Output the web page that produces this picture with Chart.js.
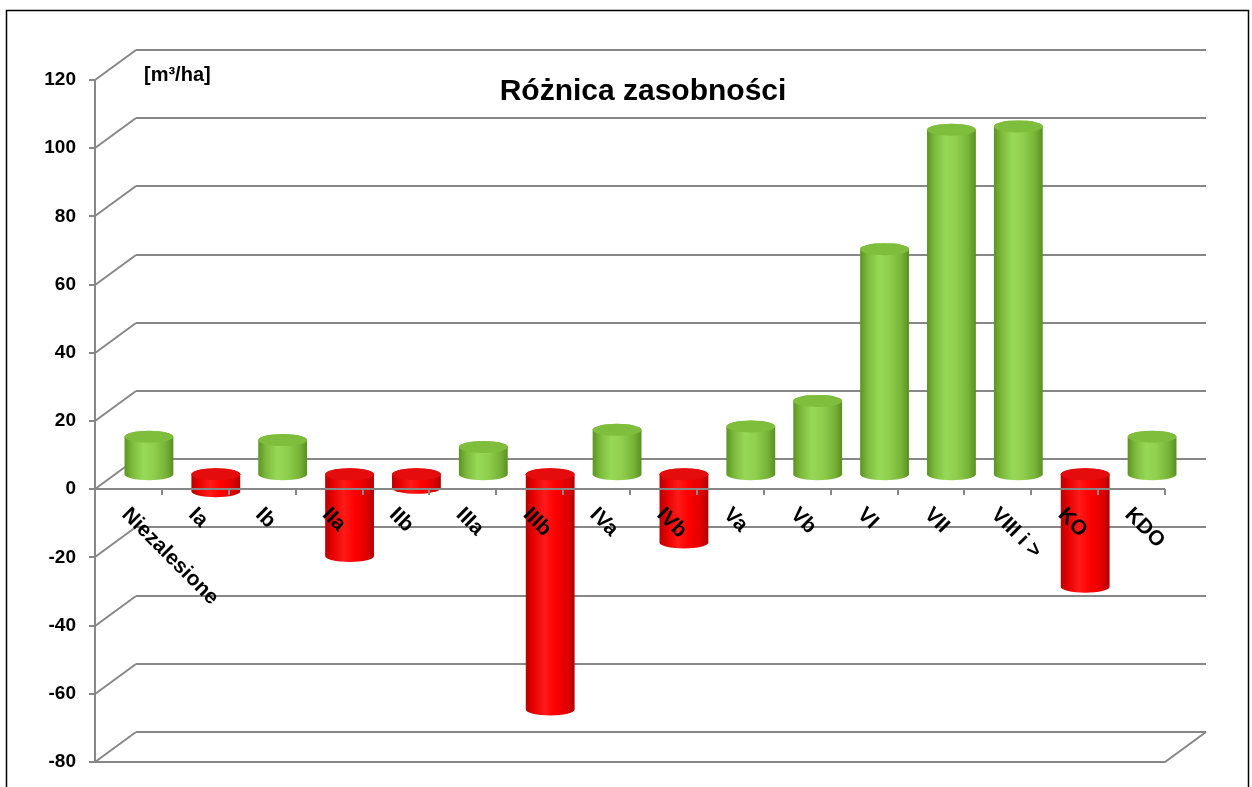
<!DOCTYPE html>
<html>
<head>
<meta charset="utf-8">
<script src="https://cdn.jsdelivr.net/npm/chart.js@4"></script>
<style>
  html, body { margin: 0; padding: 0; background: #fff; overflow: hidden; }
  #wrap { width: 1252px; height: 787px; position: relative; }
</style>
</head>
<body>
<div id="wrap"><canvas id="chart"></canvas></div>
<script>
// ==================== DATA ====================
const categories = ['Niezalesione', 'Ia', 'Ib', 'IIa', 'IIb', 'IIIa', 'IIIb', 'IVa', 'IVb', 'Va', 'Vb', 'VI', 'VII', 'VIII i >', 'KO', 'KDO'];
const values = [11, -5, 10, -24, -4, 8, -69, 13, -20, 14, 21.5, 66, 101, 102, -33, 11];
const yTicks = [-80, -60, -40, -20, 0, 20, 40, 60, 80, 100, 120];
const chartTitle = 'Różnica zasobności';
const unitLabel = '[m³/ha]';

// ==================== 3D LOOK ====================
const DX = 41, DY = 30;          // depth offset of the back wall
const gridColor = '#878787';
const font = "'Liberation Sans', Arial, sans-serif";

const GREEN = { stops: ['#5b9322', '#7cb93a', '#97d857', '#8fcf4d', '#76b236', '#5a8f22'], top: '#7fbd3d' };
const RED = { stops: ['#b80000', '#e60000', '#ff1a1a', '#ff0000', '#e00000', '#b00000'], top: '#e40c0c' };

function drawCylinder(ctx, cx, topY, botY, w, ry, pal) {
  const l = cx - w / 2, r = cx + w / 2;
  const g = ctx.createLinearGradient(l, 0, r, 0);
  const pos = [0, 0.15, 0.38, 0.6, 0.85, 1];
  pal.stops.forEach((c, i) => g.addColorStop(pos[i], c));
  ctx.beginPath();
  ctx.moveTo(l, topY);
  ctx.lineTo(l, botY);
  ctx.ellipse(cx, botY, w / 2, ry, 0, Math.PI, 0, true);
  ctx.lineTo(r, topY);
  ctx.ellipse(cx, topY, w / 2, ry, 0, 0, Math.PI, true);
  ctx.closePath();
  ctx.fillStyle = g;
  ctx.fill();
  // top cap
  ctx.beginPath();
  ctx.ellipse(cx, topY, w / 2, ry, 0, 0, Math.PI * 2);
  ctx.fillStyle = pal.top;
  ctx.fill();
}

const wallPlugin = {
  id: 'wall3d',
  beforeDatasetsDraw(chart) {
    const { ctx, chartArea: a, scales: { y } } = chart;
    ctx.save();
    ctx.strokeStyle = gridColor;
    ctx.lineWidth = 2;
    ctx.beginPath();
    yTicks.forEach(v => {
      const fy = Math.round(y.getPixelForValue(v));
      // back wall line
      ctx.moveTo(a.left + DX, fy - DY);
      ctx.lineTo(a.right + DX, fy - DY);
      // side wall diagonal
      ctx.moveTo(a.left, fy);
      ctx.lineTo(a.left + DX, fy - DY);
      // tick mark
      ctx.moveTo(a.left - 6, fy);
      ctx.lineTo(a.left, fy);
    });
    // front vertical axis
    ctx.moveTo(a.left, a.top);
    ctx.lineTo(a.left, a.bottom);
    // floor front edge + right diagonal
    ctx.moveTo(a.left, a.bottom);
    ctx.lineTo(a.right, a.bottom);
    ctx.lineTo(a.right + DX, a.bottom - DY);
    ctx.stroke();
    ctx.restore();
  },
  afterDatasetsDraw(chart) {
    const { ctx, chartArea: a, scales: { x, y } } = chart;
    const meta = chart.getDatasetMeta(0);
    ctx.save();
    meta.data.forEach((bar, i) => {
      const p = bar.getProps(['x', 'y', 'base', 'width'], true);
      const top = Math.min(p.y, p.base) - DY / 2;
      const bot = Math.max(p.y, p.base) - DY / 2;
      drawCylinder(ctx, p.x + DX / 2, top, bot, p.width, 6, values[i] >= 0 ? GREEN : RED);
    });

    // front category axis at zero
    const y0 = Math.round(y.getPixelForValue(0));
    ctx.strokeStyle = gridColor;
    ctx.lineWidth = 2;
    ctx.beginPath();
    ctx.moveTo(a.left, y0);
    ctx.lineTo(a.right, y0);
    for (let i = 0; i <= categories.length; i++) {
      const px = Math.round(x.getPixelForValue(i - 0.5));
      ctx.moveTo(px, y0);
      ctx.lineTo(px, y0 + 6);
    }
    ctx.stroke();

    // rotated category labels
    ctx.fillStyle = '#000';
    ctx.font = `bold 21px ${font}`;
    ctx.textAlign = 'left';
    ctx.textBaseline = 'top';
    categories.forEach((c, i) => {
      const px = x.getPixelForValue(i);
      ctx.save();
      ctx.translate(px + 4, y0 + 15);
      ctx.rotate(Math.PI / 4);
      ctx.fillText(c, 0, 0);
      ctx.restore();
    });
    ctx.restore();
  },
  afterDraw(chart) {
    const { ctx } = chart;
    ctx.save();
    ctx.fillStyle = '#000';
    ctx.textBaseline = 'alphabetic';
    ctx.font = `bold 30px ${font}`;
    ctx.textAlign = 'center';
    ctx.fillText(chartTitle, 643, 100);
    ctx.font = `bold 20px ${font}`;
    ctx.textAlign = 'left';
    ctx.fillText(unitLabel, 144, 81);
    // outer frame
    ctx.strokeStyle = '#000';
    ctx.lineWidth = 1.5;
    ctx.strokeRect(6.5, 10.5, 1242, 800);
    ctx.restore();
  }
};

// ==================== CHART ====================
new Chart(document.getElementById('chart'), {
  type: 'bar',
  data: {
    labels: categories,
    datasets: [{
      data: values,
      backgroundColor: 'rgba(0,0,0,0)',
      borderWidth: 0,
      categoryPercentage: 1,
      barPercentage: 0.73
    }]
  },
  options: {
    responsive: true,
    maintainAspectRatio: false,
    animation: false,
    layout: { padding: { top: 80, right: 87, bottom: 25, left: 0 } },
    plugins: { legend: { display: false }, tooltip: { enabled: false }, title: { display: false } },
    scales: {
      x: { display: false },
      y: {
        min: -80,
        max: 120,
        afterFit: s => { s.width = 95; },
        afterBuildTicks: s => { s.ticks = yTicks.map(v => ({ value: v })); },
        ticks: { color: '#000', font: { family: font, size: 19, weight: 'bold' }, padding: 0 },
        grid: { display: false, drawTicks: true, tickLength: 19 },
        border: { display: false }
      }
    }
  },
  plugins: [wallPlugin]
});
</script>
</body>
</html>
